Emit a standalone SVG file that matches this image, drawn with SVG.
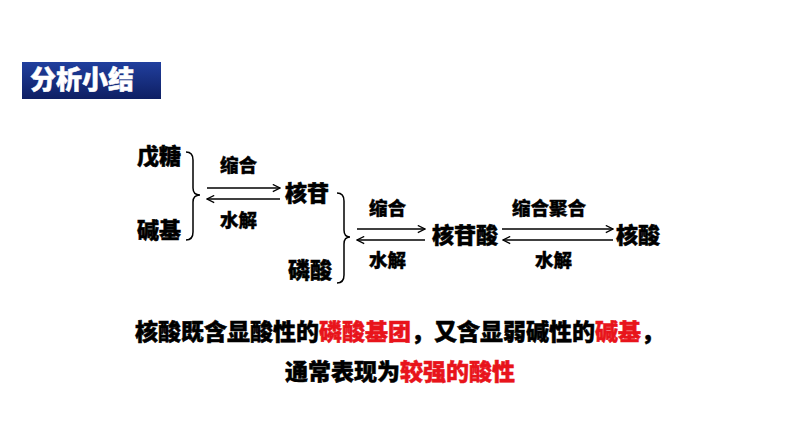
<svg xmlns="http://www.w3.org/2000/svg" width="794" height="447" viewBox="0 0 794 447">
  <defs>
    <linearGradient id="titleGrad" x1="0" y1="0" x2="0" y2="1">
      <stop offset="0" stop-color="#213f9e"/>
      <stop offset="1" stop-color="#0e1f63"/>
    </linearGradient>
    <marker id="arrow" viewBox="0 0 10 10" refX="9" refY="5" markerWidth="9" markerHeight="9" markerUnits="userSpaceOnUse" orient="auto">
      <path d="M1,1 L9,5 L1,9" fill="none" stroke="#000" stroke-width="1.4"/>
    </marker>
  </defs>
  <style>
    text { font-family: "Noto Sans CJK SC", "Liberation Sans", sans-serif; font-weight: 900; fill: #000; stroke: #000; stroke-width: 0.5px; }
    .node { font-size: 22px; }
    .lbl { font-size: 18.5px; stroke-width: 0.4px; }
    .body { font-size: 23px; }
    .red { fill: #e8141b; stroke: #e8141b; }
    .title { font-size: 26px; fill: #fff; stroke: #fff; }
    .conn line { stroke: #000; stroke-width: 1.5; marker-end: url(#arrow); }
    .brace { fill: none; stroke: #000; stroke-width: 1.5; }
  </style>
  <rect width="794" height="447" fill="#fff"/>

  <g id="title">
    <rect x="22" y="62" width="139" height="37" fill="url(#titleGrad)"/>
    <text class="title" x="30" y="89">分析小结</text>
  </g>

  <g id="n-pentose"><text class="node" x="137" y="164">戊糖</text></g>
  <g id="n-base"><text class="node" x="137" y="238">碱基</text></g>
  <g id="n-nucleoside"><text class="node" x="285" y="201">核苷</text></g>
  <g id="n-phosphate"><text class="node" x="288" y="278">磷酸</text></g>
  <g id="n-nucleotide"><text class="node" x="432" y="243">核苷酸</text></g>
  <g id="n-nucleicacid"><text class="node" x="616" y="243">核酸</text></g>

  <g id="braces">
    <path class="brace" d="M186,152 Q193,152 193,160 L193,188 Q193,195 200,195 Q193,195 193,202 L193,232 Q193,240 186,240"/>
    <path class="brace" d="M337,193 Q344,193 344,201 L344,230 Q344,237 350,237 Q344,237 344,244 L344,275 Q344,283 337,283"/>
  </g>

  <g id="connectors" class="conn">
    <line x1="207" y1="188" x2="280" y2="188"/>
    <line x1="280" y1="199" x2="207" y2="199"/>
    <line x1="357" y1="229" x2="425" y2="229"/>
    <line x1="425" y1="240" x2="357" y2="240"/>
    <line x1="502" y1="229" x2="613" y2="229"/>
    <line x1="613" y1="240" x2="503" y2="240"/>
  </g>

  <g id="labels">
    <text class="lbl" x="220" y="172">缩合</text>
    <text class="lbl" x="220" y="227">水解</text>
    <text class="lbl" x="369" y="215">缩合</text>
    <text class="lbl" x="369" y="267">水解</text>
    <text class="lbl" x="512" y="215">缩合聚合</text>
    <text class="lbl" x="535" y="267">水解</text>
  </g>

  <g id="summary">
    <text class="body" x="135" y="340">核酸既含显酸性的<tspan class="red">磷酸基团</tspan>，又含显弱碱性的<tspan class="red">碱基</tspan>，</text>
    <text class="body" x="285" y="380">通常表现为<tspan class="red">较强的酸性</tspan></text>
  </g>
</svg>
